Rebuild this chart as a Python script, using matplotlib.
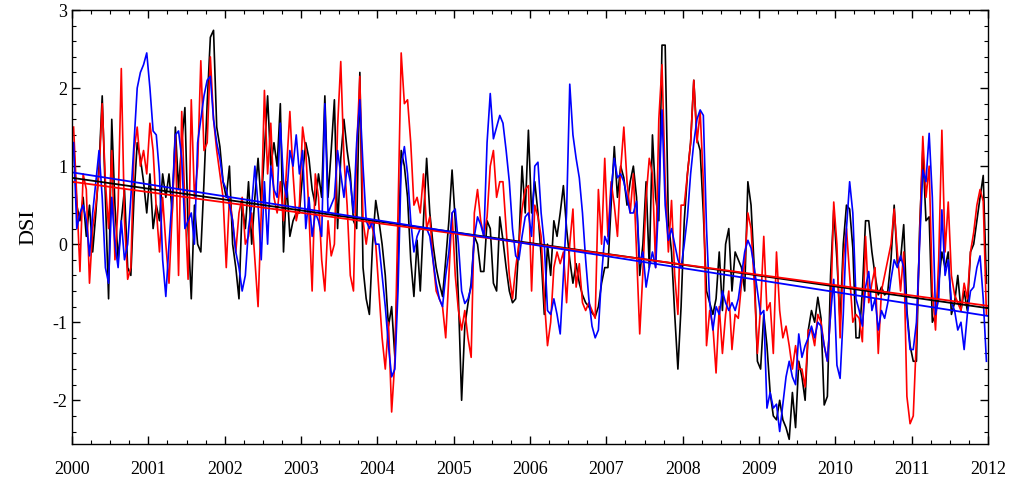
import numpy as np
import matplotlib
matplotlib.use("Agg")
import matplotlib.pyplot as plt
from matplotlib.ticker import MultipleLocator

years = list(range(2000, 2012))
per_year = 24

black = [
    # 2000
    1.3, 0.5, 0.3, 0.6, 0.1, 0.5, -0.1, 0.4, 1.0, 1.9, 0.6, -0.7, 1.6, 0.5, -0.2, 0.3, 0.7, -0.3, -0.4, 0.6, 1.3, 1.1, 0.8, 0.4,
    # 2001
    0.9, 0.2, 0.5, 0.3, 0.9, 0.6, 0.9, 0.4, 1.5, 0.7, 1.3, 1.75, 0.2, -0.7, 0.5, 0.0, -0.1, 0.8, 1.8, 2.65, 2.74, 1.5, 1.25, 0.8,
    # 2002
    0.6, 1.0, 0.0, -0.3, -0.7, 0.5, 0.2, 0.8, 0.0, 0.6, 1.1, 0.5, 1.2, 1.9, 1.0, 1.3, 1.0, 1.8, -0.1, 0.8, 0.1, 0.3, 0.4, 0.4,
    # 2003
    0.9, 1.3, 1.1, 0.7, 0.5, 0.9, 0.6, 1.9, 0.6, 1.2, 1.85, 0.2, 1.1, 1.6, 1.2, 0.9, 0.3, 0.2, 2.2, -0.3, -0.7, -0.9, 0.0, 0.56,
    # 2004
    0.3, 0.0, -0.4, -1.05, -0.8, -1.44, -0.2, 1.2, 1.0, 0.6, -0.2, -0.67, 0.05, -0.6, 0.3, 1.1, 0.4, 0.0, -0.3, -0.5, -0.67, -0.2, 0.3, 0.95,
    # 2005
    0.3, -0.7, -2.0, -1.05, -0.76, -0.5, 0.1, 0.0, -0.35, -0.35, 0.3, 0.2, -0.5, -0.6, 0.35, 0.05, -0.3, -0.6, -0.75, -0.7, 0.0, 1.0, 0.4, 1.46,
    # 2006
    0.4, 0.8, 0.4, -0.15, -0.9, 0.0, -0.4, 0.3, 0.1, 0.4, 0.75, 0.2, -0.2, -0.5, -0.25, -0.5, -0.65, -0.75, -0.8, -0.88, -0.93, -0.8, -0.5, -0.3,
    # 2007
    -0.3, 0.5, 1.25, 0.6, 1.0, 0.85, 0.5, 0.8, 1.0, 0.6, -0.4, 0.0, 0.8, -0.3, 1.4, 0.6, 0.3, 2.55, 2.55, 0.3, -0.1, -0.9, -1.6, -0.8,
    # 2008
    0.3, 0.9, 1.3, 2.1, 1.35, 1.2, 0.4, -0.6, -0.75, -0.9, -0.7, -0.1, -0.85, 0.0, 0.2, -0.6, -0.1, -0.2, -0.3, -0.6, 0.8, 0.5, -0.3, -1.5,
    # 2009
    -1.6, -0.9, -1.3, -1.9, -2.2, -2.25, -2.0, -2.25, -2.35, -2.5, -1.9, -2.35, -1.5, -1.7, -2.0, -1.1, -0.85, -1.0, -0.68, -0.95, -2.06, -1.95, -0.4, 0.44,
    # 2010
    -0.2, -1.0, 0.0, 0.5, 0.45, -0.05, -1.2, -1.2, -0.6, 0.3, 0.3, -0.1, -0.4, -0.65, -0.55, -0.65, -0.6, -0.2, 0.5, -0.25, -0.2, 0.25, -0.85, -1.3,
    # 2011
    -1.5, -1.5, 0.2, 1.2, 0.3, 0.35, -1.0, -0.9, -0.5, -0.1, -0.3, -0.1, -0.9, -0.75, -0.4, -0.85, -0.6, -0.85, -0.1, 0.0, 0.3, 0.6, 0.88, -0.5,
]

red = [
    # 2000
    1.5, 0.6, -0.35, 0.9, 0.7, -0.5, 0.2, 0.5, 0.9, 1.8, 0.8, 0.2, 1.2, -0.2, 0.5, 2.25, 0.3, -0.45, -0.3, 1.2, 1.5, 1.0, 1.2, 0.9,
    # 2001
    1.55, 1.2, 0.45, -0.1, 0.6, 0.0, -0.5, 0.4, 1.4, -0.4, 1.7, 0.5, -0.45, 1.85, 0.6, 1.0, 2.35, 1.2, 1.3, 2.4, 1.6, 1.2, 0.9, 0.6,
    # 2002
    -0.3, 0.6, 0.3, -0.1, 0.4, 0.6, 0.0, 0.1, 0.4, -0.2, -0.8, 0.4, 1.97, 0.9, 1.55, 0.6, 0.4, 0.8, 0.3, 1.0, 1.7, 0.9, 0.3, 0.5,
    # 2003
    1.5, 1.2, 0.4, -0.6, 0.9, 0.6, -0.2, -0.6, 0.3, -0.15, 0.0, 1.5, 2.34, 1.1, 0.5, -0.4, -0.6, 1.2, 2.15, 0.3, 0.0, 0.3, 0.2, 0.0,
    # 2004
    -0.6, -1.2, -1.6, -1.0, -2.15, -1.5, 0.4, 2.45, 1.8, 1.85, 1.3, 0.5, 0.6, 0.4, 0.9, 0.2, 0.35, -0.2, -0.6, -0.7, -0.8, -1.2, -0.4, 0.4,
    # 2005
    -0.4, -0.85, -1.1, -0.85, -1.2, -1.45, 0.4, 0.7, 0.3, 0.1, 0.35, 1.0, 1.2, 0.6, 0.8, 0.8, 0.2, -0.4, -0.7, -0.3, 0.0, 0.45, 0.7, 0.75,
    # 2006
    -0.6, 0.5, 0.35, 0.1, -0.7, -1.3, -1.0, -0.3, -0.1, -0.25, -0.1, -0.75, 0.0, 0.45, -0.55, -0.25, -0.75, -0.85, -0.75, -0.85, -0.95, 0.7, 0.0, 1.1,
    # 2007
    0.1, 0.8, 0.5, 0.1, 0.95, 1.5, 0.8, 0.4, 0.9, -0.1, -1.15, -0.35, 0.6, 1.1, 0.9, -0.3, 1.6, 2.3, 0.8, -0.1, 0.56, -0.4, -0.9, 0.5,
    # 2008
    0.5, 0.9, 1.3, 2.1, 1.3, 1.7, 0.8, -1.3, -0.85, -1.05, -1.65, -0.8, -1.4, -0.9, -0.6, -1.35, -0.9, -0.95, -0.5, -0.25, 0.4, 0.2, -0.5, -1.4,
    # 2009
    -0.8, 0.1, -0.85, -0.75, -1.4, -0.1, -0.85, -1.2, -1.05, -1.3, -1.6, -1.3, -1.6, -1.6, -1.83, -1.1, -1.1, -1.3, -0.9, -1.0, -1.3, -1.5, -0.9, 0.54,
    # 2010
    0.0, -1.2, -0.2, 0.2, -0.4, -1.0, -0.9, -0.95, -1.25, 0.1, -0.75, -0.5, -0.3, -1.4, -0.6, -0.4, -0.2, 0.0, 0.45, -0.1, -0.6, -0.1, -1.95, -2.3,
    # 2011
    -2.2, -1.2, 0.1, 1.38, 0.6, 1.0, -0.6, -1.1, -0.2, 1.46, -0.1, 0.54, -0.4, -0.65, -0.75, -0.85, -0.5, -0.7, -0.1, 0.15, 0.5, 0.7, 0.55, -0.9,
]

blue = [
    # 2000
    1.3, 0.2, 0.4, 0.5, 0.3, -0.15, 0.4, 0.8, 1.2, 0.6, -0.3, -0.5, 0.6, 0.0, -0.3, 0.3, -0.2, 0.0, 0.6, 1.3, 2.0, 2.2, 2.3, 2.45,
    # 2001
    2.0, 1.45, 1.4, 0.9, -0.2, -0.67, 0.0, 0.6, 1.4, 1.45, 1.1, 0.2, 0.3, 0.4, 0.0, 1.3, 1.6, 1.9, 2.1, 2.15, 1.6, 1.3, 1.1, 0.8,
    # 2002
    0.7, 0.5, 0.3, -0.1, -0.3, -0.6, -0.4, 0.2, 0.5, 1.0, 0.5, -0.2, 0.8, 0.0, 1.0, 0.7, 0.6, 1.55, 0.8, 0.6, 1.2, 1.0, 1.4, 0.9,
    # 2003
    1.2, 0.2, 0.6, 0.1, 0.4, 0.3, 0.1, 1.8, 0.4, 0.5, 0.6, 1.2, 0.9, 0.6, 1.0, 0.8, 0.4, 1.3, 1.85, 1.0, 0.3, 0.2, 0.3, 0.0,
    # 2004
    0.0, -0.4, -0.8, -1.3, -1.7, -1.6, -0.6, 1.0, 1.25, 0.9, 0.3, -0.1, 0.1, 0.2, 0.2, 0.2, 0.1, -0.2, -0.5, -0.7, -0.8, -0.4, -0.1, 0.4,
    # 2005
    0.45, 0.0, -0.6, -0.76, -0.7, -0.55, 0.1, 0.35, 0.25, 0.1, 1.3, 1.93, 1.35, 1.5, 1.65, 1.55, 1.2, 0.8, 0.2, -0.15, -0.2, 0.1, 0.35, 0.4,
    # 2006
    0.1, 1.0, 1.05, 0.4, 0.0, -0.85, -0.9, -0.7, -0.9, -1.15, -0.4, 0.4, 2.05, 1.4, 1.1, 0.85, 0.4, -0.2, -0.7, -1.05, -1.2, -1.1, -0.4, 0.1,
    # 2007
    0.0, 0.7, 1.1, 0.85, 0.9, 0.8, 0.6, 0.4, 0.4, 0.55, -0.25, -0.1, -0.55, -0.3, -0.1, -0.3, 0.6, 1.72, 0.5, 0.05, 0.2, 0.0, -0.2, -0.3,
    # 2008
    0.0, 0.35, 0.9, 1.3, 1.6, 1.72, 1.65, 0.2, -0.75, -1.1, -0.8, -0.9, -0.6, -0.75, -0.85, -0.75, -0.85, -0.7, -0.4, -0.1, 0.05, -0.05, -0.3, -0.6,
    # 2009
    -0.9, -0.85, -2.1, -1.9, -2.1, -2.05, -2.4, -2.05, -1.7, -1.5, -1.7, -1.8, -1.15, -1.45, -1.3, -1.2, -1.05, -1.2, -1.0, -1.05, -1.3, -1.5, -0.9, -0.45,
    # 2010
    -1.55, -1.72, -0.9, 0.2, 0.8, 0.4, -0.7, -0.85, -1.05, -0.55, -0.35, -0.85, -0.7, -1.1, -0.85, -0.95, -0.75, -0.45, -0.2, -0.3, -0.15, -0.3, -0.9, -1.35,
    # 2011
    -1.35, -1.0, 0.0, 0.95, 0.8, 1.42, 0.6, -0.9, -0.7, 0.44, -0.4, -0.2, -0.75, -0.85, -1.1, -1.0, -1.35, -0.9, -0.6, -0.55, -0.3, -0.15, -0.7, -1.5,
]

# linear trend lines (value at 2000 and at 2012)
trend_start = [0.85, 0.80, 0.92]   # black, red, blue
trend_end = [-0.82, -0.79, -0.92]

x_ticks = list(range(2000, 2013))
y_ticks = [-2, -1, 0, 1, 2, 3]
y_label = "DSI"

n = len(years) * per_year
t = years[0] + (np.arange(n) + 0.5) / per_year

plt.rcParams['font.family'] = ['Liberation Serif', 'DejaVu Serif']

fig = plt.figure(figsize=(10.16, 4.92), dpi=100)
ax = fig.add_axes([72/1016, 1 - 444/492, (988 - 72)/1016, (444 - 10)/492])

colors = ['black', '#ff0000', '#0000ff']
for vals, col in zip([black, red, blue], colors):
    ax.plot(t, vals, color=col, lw=1.2)
xx = [x_ticks[0], x_ticks[-1]]
for s0, s1, col in zip(trend_start, trend_end, colors):
    ax.plot(xx, [s0, s1], color=col, lw=1.3)

ax.set_xlim(x_ticks[0], x_ticks[-1])
ax.set_ylim(-2.56, 3)
ax.set_xticks(x_ticks)
ax.set_xticklabels([str(v) for v in x_ticks])
ax.set_yticks(y_ticks)
ax.set_yticklabels([str(v) for v in y_ticks])
ax.xaxis.set_minor_locator(MultipleLocator(0.25))
ax.yaxis.set_minor_locator(MultipleLocator(0.2))
ax.tick_params(which='both', direction='in', top=True, right=True, labelsize=13)
ax.tick_params(which='major', length=6, width=1)
ax.tick_params(which='minor', length=3, width=0.8)
ax.tick_params(axis='x', pad=12)
ax.set_ylabel(y_label, fontsize=16, labelpad=10)
for s in ax.spines.values():
    s.set_linewidth(1)

fig.savefig("out.png", dpi=100)
